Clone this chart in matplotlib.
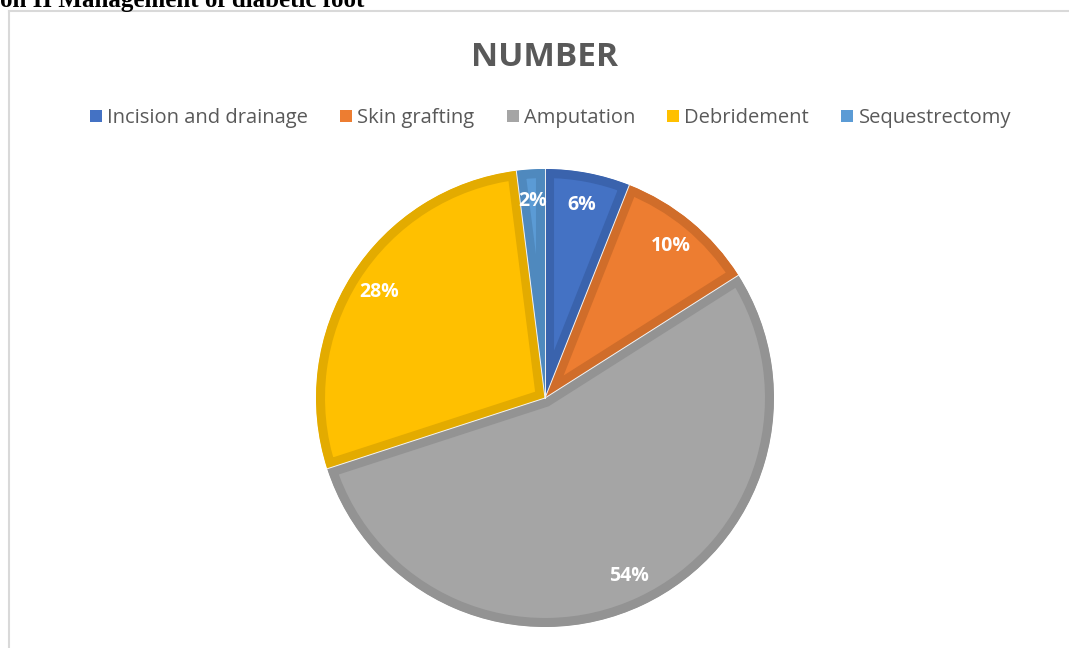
import numpy as np
import matplotlib.pyplot as plt
from matplotlib.lines import Line2D
from matplotlib.patches import Wedge

# data
labels = ['Incision and drainage', 'Skin grafting', 'Amputation', 'Debridement', 'Sequestrectomy']
values = [6, 10, 54, 28, 2]
fills = ['#4472C4', '#ED7D31', '#A5A5A5', '#FFC000', '#5B9BD5']
edges = ['#3A63AD', '#D06D2A', '#939393', '#E3AB00', '#4F89BE']

W, H = 1069, 648
fig = plt.figure(figsize=(W / 100, H / 100), dpi=100)

# pie centre (545, 398) px, radius ~229 px
cx, cy, r = 545, 398, 229
ax = fig.add_axes([(cx - r) / W, (H - cy - r) / H, 2 * r / W, 2 * r / H])

wedges, texts, autotexts = ax.pie(values, colors=fills, startangle=90, counterclock=False,
                                  autopct='%1.0f%%', pctdistance=0.86, radius=1,
                                  wedgeprops=dict(linewidth=0))
# darker inner rim on every slice: stroke clipped to a copy of its wedge
for w, ec in zip(wedges, edges):
    clip = Wedge(w.center, w.r, w.theta1, w.theta2, transform=ax.transData)
    w.set_edgecolor(ec)
    w.set_linewidth(13)
    w.set_clip_on(True)
    w.set_clip_path(clip)

# thin light separators between slices
bounds = 90 - 360 * np.cumsum([0] + values[:-1]) / sum(values)
for a in bounds:
    t = np.deg2rad(a)
    ax.plot([0, np.cos(t)], [0, np.sin(t)], color='#F2F2F2', linewidth=0.7)

for t in autotexts:
    t.set_color('white')
    t.set_fontweight('bold')
    t.set_fontsize(14)
    t.set_family('Open Sans')
ax.set_xlim(-1, 1)
ax.set_ylim(-1, 1)
ax.axis('off')

# title
fig.text(cx / W, 1 - 57 / H, 'NUMBER', ha='center', va='center', fontsize=24,
         fontweight='bold', color='#595959', family='Open Sans')

# legend
handles = [Line2D([], [], marker='s', linestyle='none', markersize=9, markerfacecolor=c,
                  markeredgewidth=0) for c in fills]
fig.legend(handles, labels, loc='center', bbox_to_anchor=(550 / W, 1 - 118 / H), ncol=5,
           frameon=False, handlelength=0.7, handletextpad=0.2, columnspacing=1.55,
           prop={'family': 'Open Sans', 'size': 14.5}, labelcolor='#595959')

# frame lines and clipped caption
fig.add_artist(Line2D([9 / W, 9 / W], [0, 1 - 11 / H], color='#D9D9D9', linewidth=1.5))
fig.add_artist(Line2D([9 / W, 1], [1 - 11 / H, 1 - 11 / H], color='#D9D9D9', linewidth=1.5))
fig.text(0, 1 - 7 / H, 'on II Management of diabetic foot', ha='left', va='baseline',
         fontsize=18, fontweight='bold', family='Liberation Serif', color='black')

fig.savefig('out.png', dpi=100)
